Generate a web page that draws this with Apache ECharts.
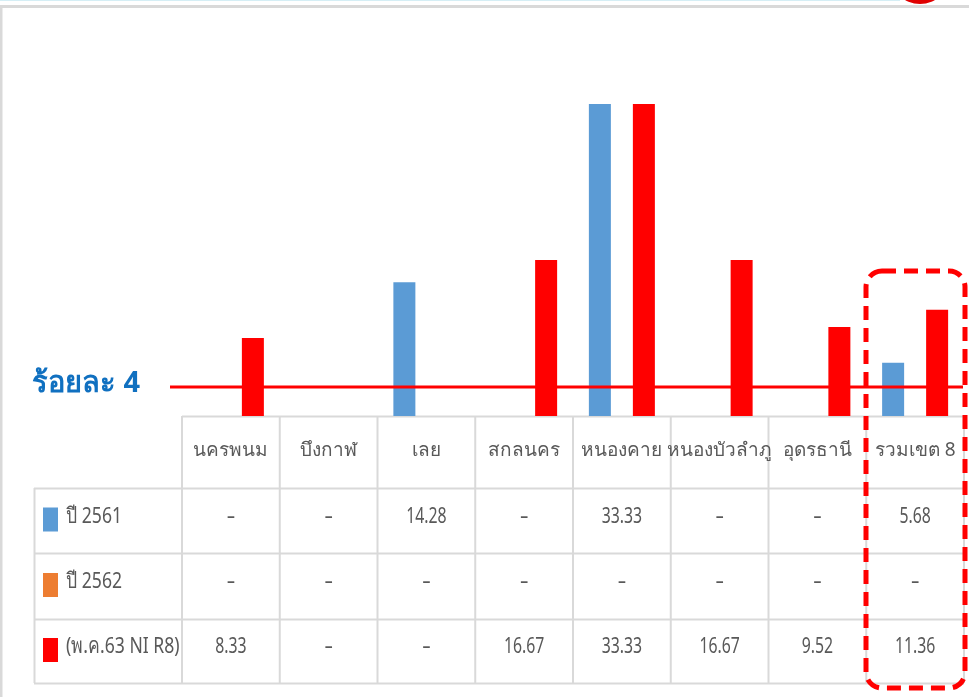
<!DOCTYPE html>
<html><head><meta charset="utf-8">
<script src="https://cdn.jsdelivr.net/npm/echarts@6/dist/echarts.min.js"></script>
<style>html,body{margin:0;padding:0;background:#fff}#c{width:969px;height:697px}</style>
</head><body><div id="c"></div>
<script>
const categories = ['นครพนม','บึงกาฬ','เลย','สกลนคร','หนองคาย','หนองบัวลำภู','อุดรธานี','รวมเขต 8'];
const seriesNames = ['ปี 2561','ปี 2562','(พ.ค.63 NI R8)'];
const values2561 = [null, null, 14.28, null, 33.33, null, null, 5.68];
const values2562 = [null, null, null, null, null, null, null, null];
const values63 = [8.33, null, null, 16.67, 33.33, 16.67, 9.52, 11.36];
const refLabel = 'ร้อยละ 4';
const refValue = 3.1;
const colors = ['#5B9BD5', '#ED7D31', '#FF0000'];
const allValues = [values2561, values2562, values63];

const FONT = "'Noto Sans','DejaVu Sans',sans-serif";
const chart = echarts.init(document.getElementById('c'));
const gridLeft = 182, gridRight = 5, axisY = 416;
const option = {
  backgroundColor: '#fff',
  animation: false,
  grid: {left: gridLeft, right: gridRight, top: 41.6, bottom: 697 - axisY},
  xAxis: {
    type: 'category', data: categories,
    axisLine: {show: false}, axisTick: {show: false},
    axisLabel: {margin: 35, verticalAlign: 'middle', color: '#595959', fontSize: 19, fontFamily: FONT, interval: 0}
  },
  yAxis: {type: 'value', min: 0, max: 40, show: false, splitLine: {show: false}},
  series: seriesNames.map((n, i) => ({
    name: n, type: 'bar', data: allValues[i], barWidth: 22, barGap: '0%',
    itemStyle: {color: colors[i]}
  }))
};
chart.setOption(option);

const c0 = chart.convertToPixel({xAxisIndex: 0}, 0);
const c1 = chart.convertToPixel({xAxisIndex: 0}, 1);
const colW = c1 - c0;
const bounds = [];
for (let i = 0; i <= categories.length; i++) bounds.push(c0 - colW / 2 + i * colW);
const tableLeft = 34, tableRight = bounds[bounds.length - 1];
const rowBounds = [axisY, 488, 553, 619, 683];
const lineColor = '#D9D9D9';
const g = [];
// outer frame
g.push({type: 'line', shape: {x1: 0, y1: 0.5, x2: 900, y2: 0.5}, style: {stroke: '#D5EEF5', lineWidth: 1}});
g.push({type: 'line', shape: {x1: 0, y1: 6.5, x2: 969, y2: 6.5}, style: {stroke: '#D9D9D9', lineWidth: 3}});
g.push({type: 'line', shape: {x1: 1, y1: 5, x2: 1, y2: 697}, style: {stroke: '#D9D9D9', lineWidth: 3}});
g.push({type: 'circle', shape: {cx: 920, cy: -26, r: 30}, style: {fill: '#E00000'}});
// table lines
rowBounds.forEach((y, k) => {
  g.push({type: 'line', shape: {x1: k === 0 ? bounds[0] : tableLeft, y1: y + 0.5, x2: tableRight, y2: y + 0.5}, style: {stroke: lineColor, lineWidth: 2}});
});
g.push({type: 'line', shape: {x1: tableLeft + 0.5, y1: rowBounds[1], x2: tableLeft + 0.5, y2: rowBounds[4]}, style: {stroke: lineColor, lineWidth: 2}});
bounds.forEach(x => {
  g.push({type: 'line', shape: {x1: x, y1: rowBounds[0], x2: x, y2: rowBounds[4]}, style: {stroke: lineColor, lineWidth: 2}});
});
// rows
seriesNames.forEach((n, r) => {
  const yc = (rowBounds[r + 1] + rowBounds[r + 2]) / 2;
  g.push({type: 'rect', shape: {x: 43, y: yc - 13, width: 15, height: 24}, style: {fill: colors[r]}});
  g.push({type: 'text', x: 66, y: yc - 4, scaleX: 0.8, style: {x: 0, y: 0, text: n, font: '22px ' + FONT, fill: '#595959', verticalAlign: 'middle', align: 'left'}});
  allValues[r].forEach((v, i) => {
    g.push({type: 'text', x: c0 + i * colW, y: yc - 4, scaleX: 0.72, style: {x: 0, y: 0, text: v == null ? '–' : v.toFixed(2), font: '22px ' + FONT, fill: '#595959', verticalAlign: 'middle', align: 'center'}});
  });
});
// reference line
const refY = chart.convertToPixel({yAxisIndex: 0}, refValue);
g.push({type: 'line', z: 100, shape: {x1: 170, y1: refY, x2: 963, y2: refY}, style: {stroke: '#FF0000', lineWidth: 3}});
g.push({type: 'text', style: {x: 32, y: refY - 3, text: refLabel, font: 'bold 29px ' + FONT, fill: '#1070C0', verticalAlign: 'middle'}});
// highlight box
g.push({type: 'rect', z: 100, shape: {x: 866, y: 271, width: 99, height: 417, r: 16}, style: {fill: 'none', stroke: '#FF0000', lineWidth: 5, lineDash: [14, 8]}});
chart.setOption({graphic: g});
</script></body></html>
